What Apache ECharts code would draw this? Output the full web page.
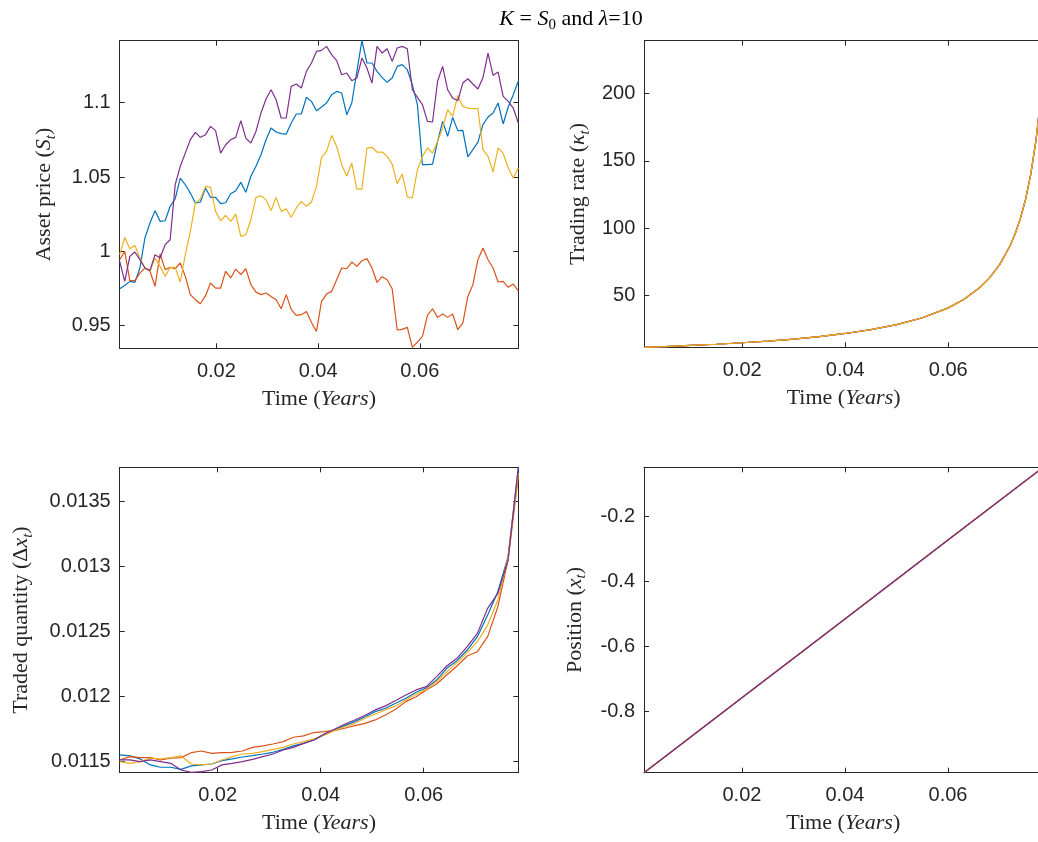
<!DOCTYPE html>
<html><head><meta charset="utf-8">
<script src="https://cdn.jsdelivr.net/npm/echarts@6/dist/echarts.min.js"></script>
<style>html,body{margin:0;padding:0;background:#fff}#c{width:1038px;height:842px}</style>
</head><body><div id="c"></div>
<script>
// ---------- data ----------
const time = [0.00099,0.00198,0.00298,0.00397,0.00496,0.00595,0.00694,0.00794,0.00893,0.00992,
0.01091,0.01190,0.01290,0.01389,0.01488,0.01587,0.01686,0.01786,0.01885,0.01984,
0.02083,0.02182,0.02282,0.02381,0.02480,0.02579,0.02678,0.02778,0.02877,0.02976,
0.03075,0.03174,0.03274,0.03373,0.03472,0.03571,0.03670,0.03770,0.03869,0.03968,
0.04067,0.04166,0.04266,0.04365,0.04464,0.04563,0.04662,0.04762,0.04861,0.04960,
0.05059,0.05158,0.05258,0.05357,0.05456,0.05555,0.05654,0.05754,0.05853,0.05952,
0.06051,0.06150,0.06250,0.06349,0.06448,0.06547,0.06646,0.06746,0.06845,0.06944,
0.07043,0.07142,0.07242,0.07341,0.07440,0.07539,0.07638,0.07738,0.07837,0.07936];

const priceBlue = [0.9749,0.9771,0.9798,0.9791,0.9888,1.0090,1.0191,1.0274,1.0202,1.0206,
1.0303,1.0354,1.0493,1.0448,1.0392,1.0325,1.0332,1.0426,1.0363,1.0363,
1.0321,1.0327,1.0388,1.0408,1.0464,1.0397,1.0505,1.0572,1.0650,1.0751,
1.0830,1.0803,1.0792,1.0789,1.0863,1.0924,1.0924,1.1036,1.1009,1.0946,
1.0971,1.0998,1.1054,1.1076,1.1065,1.0919,1.0998,1.1211,1.1417,1.1267,
1.1267,1.1211,1.1170,1.1137,1.1166,1.1244,1.1256,1.1222,1.1121,1.0987,
1.0583,1.0583,1.0587,1.0740,1.0874,1.0774,1.0901,1.0812,1.0814,1.0635,
1.0684,1.0735,1.0852,1.0904,1.0931,1.0998,1.0857,1.0971,1.1054,1.1144];
const priceRed = [0.9944,1.0000,0.9803,0.9803,0.9854,0.9888,0.9866,0.9765,0.9982,0.9877,
0.9892,0.9883,0.9922,0.9832,0.9709,0.9675,0.9648,0.9702,0.9787,0.9753,
0.9753,0.9866,0.9821,0.9881,0.9843,0.9883,0.9776,0.9726,0.9709,0.9720,
0.9697,0.9675,0.9614,0.9709,0.9608,0.9570,0.9574,0.9596,0.9522,0.9462,
0.9664,0.9713,0.9731,0.9809,0.9888,0.9883,0.9928,0.9899,0.9937,0.9951,
0.9888,0.9791,0.9830,0.9809,0.9749,0.9471,0.9475,0.9489,0.9354,0.9390,
0.9428,0.9570,0.9614,0.9556,0.9579,0.9556,0.9579,0.9473,0.9518,0.9697,
0.9776,0.9944,1.0022,0.9944,0.9888,0.9794,0.9798,0.9758,0.9780,0.9735];
const priceYellow = [0.9978,1.0094,1.0018,1.0040,0.9955,0.9888,0.9866,0.9955,0.9899,0.9832,
0.9892,0.9892,0.9794,0.9978,1.0135,1.0325,1.0352,1.0437,1.0431,1.0269,
1.0206,1.0242,1.0202,1.0251,1.0101,1.0112,1.0213,1.0363,1.0374,1.0348,
1.0274,1.0363,1.0269,1.0287,1.0229,1.0292,1.0336,1.0303,1.0332,1.0437,
1.0632,1.0673,1.0780,1.0706,1.0583,1.0505,1.0594,1.0419,1.0419,1.0695,
1.0700,1.0668,1.0668,1.0639,1.0587,1.0455,1.0520,1.0366,1.0359,1.0549,
1.0639,1.0695,1.0661,1.0740,1.0830,1.0953,1.0908,1.1049,1.0975,1.0964,
1.0960,1.0960,1.0684,1.0639,1.0534,1.0695,1.0661,1.0561,1.0493,1.0561];
const pricePurple = [0.9933,0.9798,0.9966,0.9996,0.9944,0.9888,0.9872,0.9978,0.9955,1.0045,
1.0078,1.0448,1.0572,1.0661,1.0751,1.0800,1.0767,1.0785,1.0841,1.0812,
1.0661,1.0717,1.0751,1.0767,1.0879,1.0762,1.0729,1.0807,1.0931,1.1025,
1.1087,1.1020,1.0897,1.0897,1.1110,1.1126,1.1099,1.1211,1.1267,1.1345,
1.1352,1.1379,1.1323,1.1283,1.1188,1.1200,1.1148,1.1166,1.1300,1.1233,
1.1132,1.1379,1.1334,1.1363,1.1278,1.1368,1.1379,1.1363,1.1087,1.1036,
1.0987,1.0874,1.0870,1.1144,1.1244,1.1087,1.1031,1.1013,1.1132,1.1161,
1.1126,1.1092,1.1170,1.1334,1.1184,1.1206,1.1043,1.1009,1.0964,1.0863];

const rateTime = [0.00099,0.005,0.01,0.015,0.02,0.025,0.03,0.035,0.04,0.045,0.05,0.055,0.06,
0.063,0.066,0.068,0.07,0.072,0.073,0.074,0.075,0.076,0.077,0.0775,0.078,0.07837];
const rateValues = [11.63,12.2,13.0,13.9,15.0,16.2,17.7,19.6,21.9,24.7,28.5,33.6,40.9,
47.1,55.6,63.1,73.2,87.0,96.1,107.3,121.4,139.8,164.5,181.4,205.0,239.3];

const qtyTime = [0.00099,0.00298,0.00496,0.00694,0.00893,0.01091,0.01290,0.01488,0.01686,0.01885,
0.02083,0.02282,0.02480,0.02678,0.02877,0.03075,0.03274,0.03472,0.03670,0.03869,
0.04067,0.04266,0.04464,0.04662,0.04861,0.05059,0.05258,0.05456,0.05654,0.05853,
0.06051,0.06250,0.06448,0.06646,0.06845,0.07043,0.07242,0.07440,0.07638,0.07837];
const qtyBlue = [0.011552,0.011544,0.011521,0.011475,0.011457,0.011457,0.011441,0.011467,0.011475,0.011482,
0.011508,0.011521,0.011536,0.011547,0.011559,0.011572,0.011595,0.011621,0.011641,0.011667,
0.011706,0.011744,0.011777,0.011808,0.011846,0.011885,0.011911,0.011949,0.011988,0.012034,
0.012067,0.012128,0.012218,0.012277,0.012359,0.012462,0.012628,0.012808,0.013077,0.013757];
const qtyRed = [0.011513,0.011539,0.011531,0.011531,0.011513,0.011526,0.011531,0.011569,0.011582,0.011564,
0.011569,0.011572,0.011582,0.011610,0.011621,0.011636,0.011654,0.011688,0.011698,0.011724,
0.011731,0.011739,0.011757,0.011777,0.011795,0.011821,0.011859,0.011903,0.011962,0.012000,
0.012052,0.012098,0.012167,0.012236,0.012313,0.012346,0.012462,0.012692,0.013051,0.013692];
const qtyYellow = [0.011500,0.011487,0.011500,0.011526,0.011521,0.011531,0.011544,0.011482,0.011475,0.011482,
0.011513,0.011539,0.011559,0.011564,0.011577,0.011595,0.011610,0.011636,0.011654,0.011675,
0.011703,0.011739,0.011769,0.011795,0.011834,0.011867,0.011898,0.011929,0.011975,0.012018,
0.012057,0.012116,0.012192,0.012262,0.012339,0.012423,0.012551,0.012744,0.013077,0.013718];
const qtyPurple = [0.011513,0.011513,0.011500,0.011513,0.011500,0.011487,0.011436,0.011418,0.011423,0.011436,
0.011475,0.011487,0.011500,0.011518,0.011539,0.011559,0.011590,0.011610,0.011641,0.011667,
0.011713,0.011749,0.011788,0.011821,0.011857,0.011898,0.011929,0.011970,0.012013,0.012052,
0.012077,0.012154,0.012236,0.012295,0.012385,0.012487,0.012680,0.012795,0.013051,0.013765];

const posTime = [0.00099,0.02,0.04,0.06,0.07837];
const posValues = [-0.988,-0.757,-0.515,-0.272,-0.049];

const timeTicks = [0.02,0.04,0.06];
const priceTicks = [0.95,1,1.05,1.1];
const rateTicks = [50,100,150,200];
const qtyTicks = [0.0115,0.012,0.0125,0.013,0.0135];
const posTicks = [-0.8,-0.6,-0.4,-0.2];

// ---------- styling ----------
const AX = '#262626';
const C = {blue:'#0072BD', red:'#D95319', yellow:'#EDB120', purple:'#7E2F8E'};
const serif = 'Liberation Serif';
const rich = {
  n:{fontFamily:serif,fontSize:22,color:AX,lineHeight:28},
  i:{fontFamily:serif,fontStyle:'italic',fontSize:22,color:AX,lineHeight:28},
  s:{fontFamily:serif,fontStyle:'italic',fontSize:15,color:AX,lineHeight:28,verticalAlign:'bottom'},
  u:{fontFamily:serif,fontSize:15,color:AX,lineHeight:28,verticalAlign:'bottom'}
};
const fmt = v => String(parseFloat(Number(v).toPrecision(6)));

const grids = [
  {left:119.7, top:40.7, width:398.6, height:307.6},
  {left:644.3, top:40.7, width:398.6, height:306.6},
  {left:119.7, top:467.3, width:398.6, height:305.4},
  {left:644.0, top:467.3, width:398.6, height:305.4}
];
const xRanges = [[0.00099,0.07936],[0.00099,0.07837],[0.00099,0.07837],[0.00099,0.07837]];
const yCfg = [
  {min:0.9348,max:1.1417,ticks:priceTicks,name:'{n|Asset price (}{i|S}{s|t}{n|)}',gap:61},
  {min:11.63,max:239.3,ticks:rateTicks,name:'{n|Trading rate (}{i|κ}{s|t}{n|)}',gap:52},
  {min:0.011415,max:0.013765,ticks:qtyTicks,name:'{n|Traded quantity (Δ}{i|x}{s|t}{n|)}',gap:84},
  {min:-0.988,max:-0.048,ticks:posTicks,name:'{n|Position (}{i|x}{s|t}{n|)}',gap:55}
];

const xAxis = [], yAxis = [];
grids.forEach((g,i)=>{
  ['bottom','top'].forEach(pos=>{
    const main = pos==='bottom';
    xAxis.push({type:'value',gridIndex:i,position:pos,min:xRanges[i][0],max:xRanges[i][1],
      axisLine:{show:true,onZero:false,lineStyle:{color:AX,width:1}},
      axisTick:{show:true,inside:true,length:5,customValues:timeTicks,lineStyle:{color:AX,width:1}},
      axisLabel:{show:main,customValues:timeTicks,formatter:fmt,color:AX,fontSize:20,fontFamily:'Liberation Sans',margin:13},
      splitLine:{show:false},
      name: main ? '{n|Time (}{i|Years}{n|)}' : '',
      nameLocation:'middle',nameGap:37,nameTextStyle:{rich}
    });
  });
  ['left','right'].forEach(pos=>{
    const main = pos==='left';
    const c = yCfg[i];
    const hiddenEdge = !main && (i===1 || i===3);
    yAxis.push({type:'value',gridIndex:i,position:pos,min:c.min,max:c.max,
      axisLine:{show:!hiddenEdge,onZero:false,lineStyle:{color:AX,width:1}},
      axisTick:{show:!hiddenEdge,inside:true,length:5,customValues:c.ticks,lineStyle:{color:AX,width:1}},
      axisLabel:{show:main,customValues:c.ticks,formatter:fmt,color:AX,fontSize:20,fontFamily:'Liberation Sans',margin:9},
      splitLine:{show:false},
      name: main ? c.name : '',
      nameLocation:'middle',nameRotate:90,nameGap:c.gap,nameTextStyle:{rich}
    });
  });
});

const zip = (xs,ys) => xs.map((x,k)=>[x,ys[k]]);
const series = [];
function add(grid, xs, ys, color){
  series.push({type:'line',xAxisIndex:grid*2,yAxisIndex:grid*2,data:zip(xs,ys),
    showSymbol:false,symbol:'none',clip:true,lineStyle:{color,width:1.2},itemStyle:{color},silent:true});
}
add(0,time,priceBlue,C.blue); add(0,time,priceRed,C.red); add(0,time,priceYellow,C.yellow); add(0,time,pricePurple,C.purple);
add(1,rateTime,rateValues,C.blue); add(1,rateTime,rateValues,C.purple); add(1,rateTime,rateValues,C.red); add(1,rateTime,rateValues,C.yellow);
add(2,qtyTime,qtyBlue,C.blue); add(2,qtyTime,qtyRed,C.red); add(2,qtyTime,qtyYellow,C.yellow); add(2,qtyTime,qtyPurple,C.purple);
add(3,posTime,posValues,C.blue); add(3,posTime,posValues,C.yellow); add(3,posTime,posValues,C.red); add(3,posTime,posValues,C.purple);

const chart = echarts.init(document.getElementById('c'),null,{renderer:'canvas'});
chart.setOption({
  animation:false,
  backgroundColor:'#fff',
  grid:grids.map(g=>Object.assign({containLabel:false,outerBoundsMode:'none'},g)),
  xAxis, yAxis, series,
  graphic:[{type:'text',x:571,y:19,style:{
    text:'{i|K}{n| = }{i|S}{u|0}{n| and }{i|λ}{n|=10}',rich,align:'center',verticalAlign:'middle'}}]
});
</script></body></html>
